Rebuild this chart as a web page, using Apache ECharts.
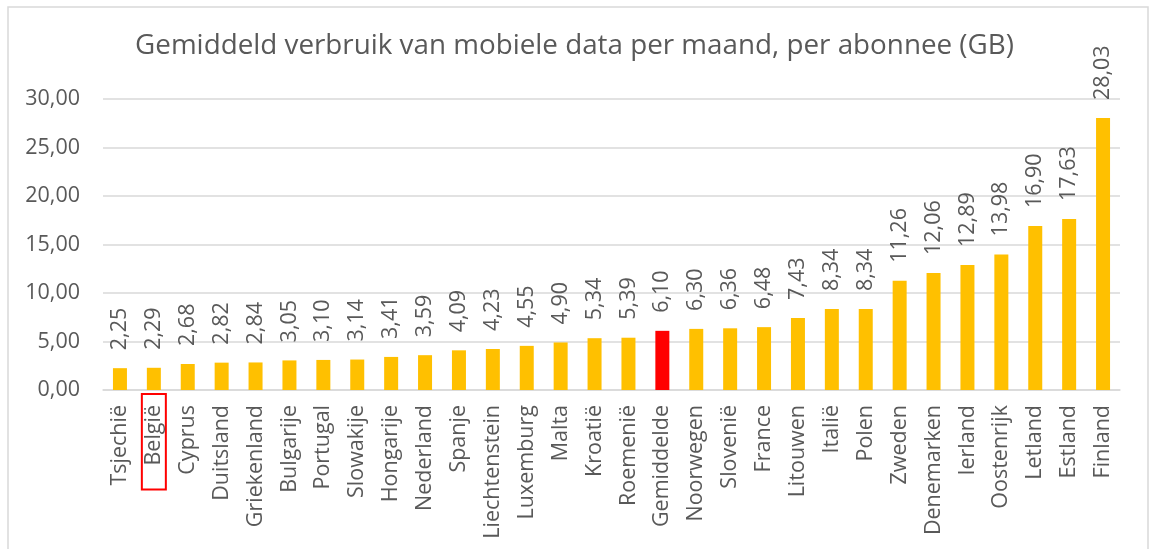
<!DOCTYPE html>
<html>
<head>
<meta charset="utf-8">
<script src="https://cdn.jsdelivr.net/npm/echarts@6/dist/echarts.min.js"></script>
<style>
  html, body { margin: 0; padding: 0; background: #fff; }
  #chart { width: 1149px; height: 549px; }
</style>
</head>
<body>
<div id="chart"></div>
<script>
// landen, gesorteerd op verbruik
var countries = ['Tsjechië', 'België', 'Cyprus', 'Duitsland', 'Griekenland', 'Bulgarije', 'Portugal',
  'Slowakije', 'Hongarije', 'Nederland', 'Spanje', 'Liechtenstein', 'Luxemburg', 'Malta', 'Kroatië',
  'Roemenië', 'Gemiddelde', 'Noorwegen', 'Slovenië', 'France', 'Litouwen', 'Italië', 'Polen', 'Zweden',
  'Denemarken', 'Ierland', 'Oostenrijk', 'Letland', 'Estland', 'Finland'];
var usage = [2.25, 2.29, 2.68, 2.82, 2.84, 3.05, 3.10, 3.14, 3.41, 3.59, 4.09, 4.23, 4.55, 4.90, 5.34,
  5.39, 6.10, 6.30, 6.36, 6.48, 7.43, 8.34, 8.34, 11.26, 12.06, 12.89, 13.98, 16.90, 17.63, 28.03];
var yTicks = [0, 5, 10, 15, 20, 25, 30];
var highlightBar = 'Gemiddelde';
var boxedLabel = 'België';

var FONT = '"Open Sans", "DejaVu Sans", sans-serif';
var TXT = '#595959';

function nl(v) {
  return v.toFixed(2).replace('.', ',');
}

var chart = echarts.init(document.getElementById('chart'));

chart.setOption({
  animation: false,
  textStyle: { fontFamily: FONT },
  title: {
    text: 'Gemiddeld verbruik van mobiele data per maand, per abonnee (GB)',
    left: 'center',
    top: 27,
    textStyle: { fontFamily: FONT, fontSize: 27.8, fontWeight: 'normal', color: TXT }
  },
  graphic: [{
    type: 'rect',
    shape: { x: 8, y: 7, width: 1140, height: 600 },
    style: { fill: 'none', stroke: '#d9d9d9', lineWidth: 1.5 },
    silent: true
  }],
  grid: { left: 103, right: 29, top: 99, bottom: 159 },
  xAxis: {
    type: 'category',
    data: countries,
    axisTick: { show: false },
    axisLine: { lineStyle: { color: '#d9d9d9', width: 1.5 } },
    axisLabel: {
      rotate: 90,
      interval: 0,
      margin: 4,
      fontFamily: FONT,
      fontSize: 21.5,
      color: TXT,
      formatter: function (v) {
        return v === boxedLabel ? '{box|' + v + '}' : '{n|' + v + '}';
      },
      rich: {
        n: { fontFamily: FONT, fontSize: 21.5, color: TXT, padding: [0, 11, 0, 0] },
        box: {
          fontFamily: FONT, fontSize: 21.5, color: TXT, lineHeight: 20,
          borderColor: '#ff0000', borderWidth: 2,
          padding: [1, 11, 1, 24]
        }
      }
    }
  },
  yAxis: {
    type: 'value',
    min: yTicks[0],
    max: yTicks[yTicks.length - 1],
    interval: 5,
    axisLine: { show: false },
    axisTick: { show: false },
    splitLine: { lineStyle: { color: '#d9d9d9', width: 1.5 } },
    axisLabel: {
      margin: 23,
      fontFamily: FONT,
      fontSize: 21.5,
      color: TXT,
      formatter: nl
    }
  },
  series: [{
    type: 'bar',
    barWidth: 14,
    data: usage.map(function (v, i) {
      return {
        value: v,
        itemStyle: { color: countries[i] === highlightBar ? '#ff0000' : '#ffc000' }
      };
    }),
    label: {
      show: true,
      position: 'top',
      rotate: 90,
      align: 'left',
      verticalAlign: 'middle',
      distance: 18,
      fontFamily: FONT,
      fontSize: 21.5,
      color: TXT,
      formatter: function (p) { return nl(p.value); }
    }
  }]
});
</script>
</body>
</html>
